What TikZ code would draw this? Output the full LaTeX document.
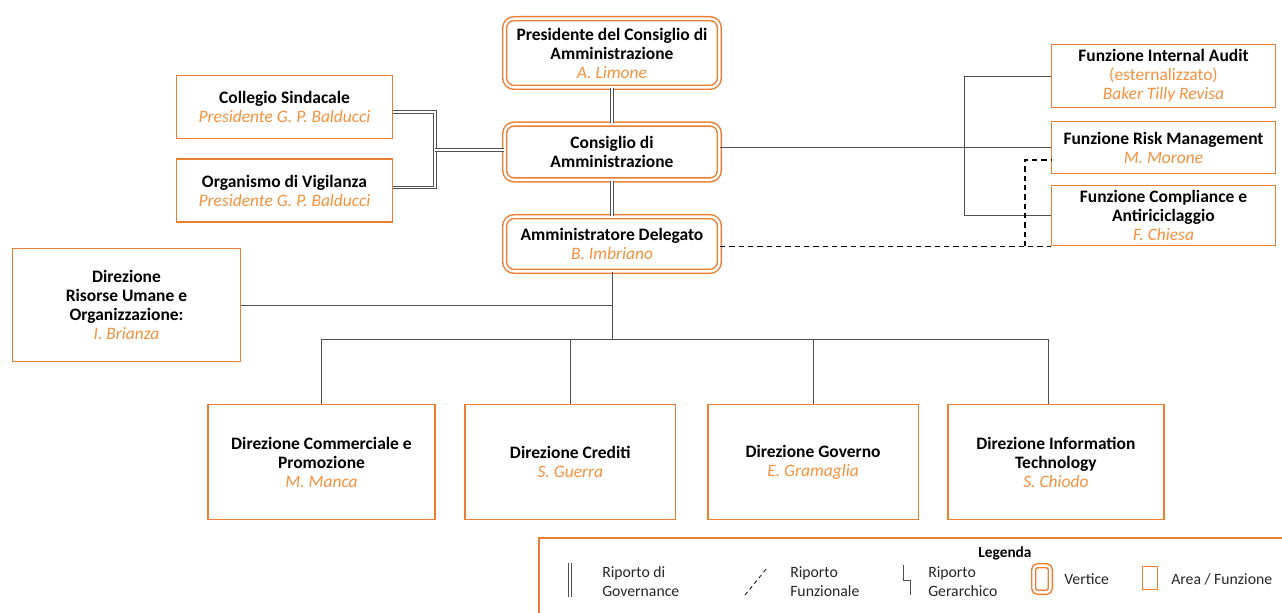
\documentclass[tikz,border=0pt]{standalone}
\usepackage{fontspec}
\setmainfont{Carlito}
\definecolor{arancio}{RGB}{237, 125, 49}
\definecolor{testoarancio}{RGB}{245, 145, 60}
\definecolor{linea}{RGB}{80, 80, 80}
\usetikzlibrary{positioning, calc}
\newcommand{\nome}[1]{{\color{testoarancio}\itshape #1}}

\begin{document}
\begin{tikzpicture}[x=0.75pt, y=-0.75pt,
		font=\fontsize{13.1}{14.25}\selectfont,
		vertice/.style={draw=arancio, double=white, double distance=1.8pt, line width=1.1pt, rounded corners=7pt, align=center, minimum width=161pt, inner sep=2pt},
		area/.style={draw=arancio, line width=1.1pt, align=center, inner sep=2pt},
		gov/.style={draw=linea, double=white, double distance=0.9pt, line width=0.7pt},
		funz/.style={draw=black, dash pattern=on 4pt off 3pt, line width=0.8pt},
		gerar/.style={draw=linea, line width=0.6pt},
		legtesto/.style={font=\fontsize{11.8}{14.25}\selectfont, align=left, anchor=west, inner sep=0pt, text=black!85}
		]
		\useasboundingbox (0,0) rectangle (1282,613);
		
		% vertice
		\node[vertice, minimum height=51.5pt] (pres) at (612,53) {\textbf{Presidente del Consiglio di}\\\textbf{Amministrazione}\\\nome{A. Limone}};
		\node[vertice, minimum height=41.8pt, below=26.5pt of pres] (cons) {\textbf{Consiglio di}\\\textbf{Amministrazione}};
		\node[vertice, minimum height=41pt, below=26.5pt of cons] (ad) {\textbf{Amministratore Delegato}\\\nome{B. Imbriano}};
		
		% controllo
		\node[area, minimum width=162pt, minimum height=47pt] (collegio) at (284.5,107) {\textbf{Collegio Sindacale}\\\nome{Presidente G. P. Balducci}};
		\node[area, minimum width=162pt, minimum height=47pt, below=14.5pt of collegio] (organismo) {\textbf{Organismo di Vigilanza}\\\nome{Presidente G. P. Balducci}};
		
		% funzioni
		\node[area, minimum width=168pt, minimum height=47pt] (audit) at (1163.5,76) {\textbf{Funzione Internal Audit}\\{\color{testoarancio}(esternalizzato)}\\\nome{Baker Tilly Revisa}};
		\node[area, minimum width=168pt, minimum height=39pt, below=9.5pt of audit] (risk) {\textbf{Funzione Risk Management}\\\nome{M. Morone}};
		\node[area, minimum width=168pt, minimum height=45pt, below=8pt of risk] (compliance) {\textbf{Funzione Compliance e}\\\textbf{Antiriciclaggio}\\\nome{F. Chiesa}};
		
		% direzioni
		\node[area, minimum width=171pt, minimum height=85pt] (risorse) at (126.5,305) {\textbf{Direzione}\\\textbf{Risorse Umane e}\\\textbf{Organizzazione:}\\\nome{I. Brianza}};
		\node[area, minimum width=170pt, minimum height=86pt] (comm) at (321.5,462) {\textbf{Direzione Commerciale e}\\\textbf{Promozione}\\\nome{M. Manca}};
		\node[area, minimum width=158pt, minimum height=86pt, right=21.5pt of comm] (cred) {\textbf{Direzione Crediti}\\\nome{S. Guerra}};
		\node[area, minimum width=158pt, minimum height=86pt, right=23pt of cred] (gover) {\textbf{Direzione Governo}\\\nome{E. Gramaglia}};
		\node[area, minimum width=162pt, minimum height=86pt, right=21pt of gover] (it) {\textbf{Direzione Information}\\\textbf{Technology}\\\nome{S. Chiodo}};
		
		% riporti di governance
		\draw[gov] (pres) -- (cons);
		\draw[gov] (cons) -- (ad);
		\coordinate (gnodo) at (435,150);
		\draw[gov] ([yshift=-3.75pt]collegio.east) -| (gnodo) |- ([yshift=2.25pt]organismo.east);
		\draw[gov] (gnodo) -- (gnodo -| cons.west);
		
		% riporti gerarchici
		\coordinate (cnodo) at (964,0);
		\draw[gerar] (cons.east |- risk.west) -- (risk.west);
		\draw[gerar] (audit.west) -| (cnodo |- compliance.west) -- (compliance.west);
		\coordinate (bus) at (612,339);
		\draw[gerar] (ad) -- (bus);
		\draw[gerar] (risorse.east) -- (risorse.east -| ad);
		\draw[gerar] (comm.north |- bus) -- ([xshift=-6pt]it.north |- bus);
		\foreach \d/\s in {comm/0pt,cred/0pt,gover/0pt,it/-6pt}{
			\draw[gerar] ([xshift=\s]\d.north) -- ([xshift=\s]\d.north |- bus);
		}
		
		% riporti funzionali
		\coordinate (dnodo) at (1025,0);
		\draw[funz] (ad.east |- compliance.south west) -- (compliance.south west);
		\draw[funz] (dnodo |- compliance.south west) |- ([yshift=-9.4pt]risk.west);
		
		% legenda
		\draw[draw=arancio, line width=1.1pt] (1300,538) -| (539,630);
		\node[font=\fontsize{11.5}{12}\selectfont\bfseries, inner sep=0pt] (legenda) at (1005,553) {Legenda};
		\draw[gov] (570,563) -- (570,597);
		\node[legtesto] (lgov) at (602,582) {Riporto di\\Governance};
		\draw[black, line width=0.6pt, dash pattern=on 3pt off 2.5pt] (745,595) -- (767,568);
		\node[legtesto] (lfunz) at (790,582) {Riporto\\Funzionale};
		\draw[gerar] (903,565) |- (910,580) -- (910,595);
		\node[legtesto] (lgerar) at (928,582) {Riporto\\Gerarchico};
		\node[vertice, minimum width=12.5pt, minimum height=20pt, rounded corners=3pt] (lvert) at (1042,579) {};
		\node[legtesto] (lvtesto) at (1064,579) {Vertice};
		\node[area, minimum width=11pt, minimum height=17pt] (larea) at (1150,578) {};
		\node[legtesto] (latesto) at (1171,579) {Area / Funzione};
	\end{tikzpicture}
\end{document}
